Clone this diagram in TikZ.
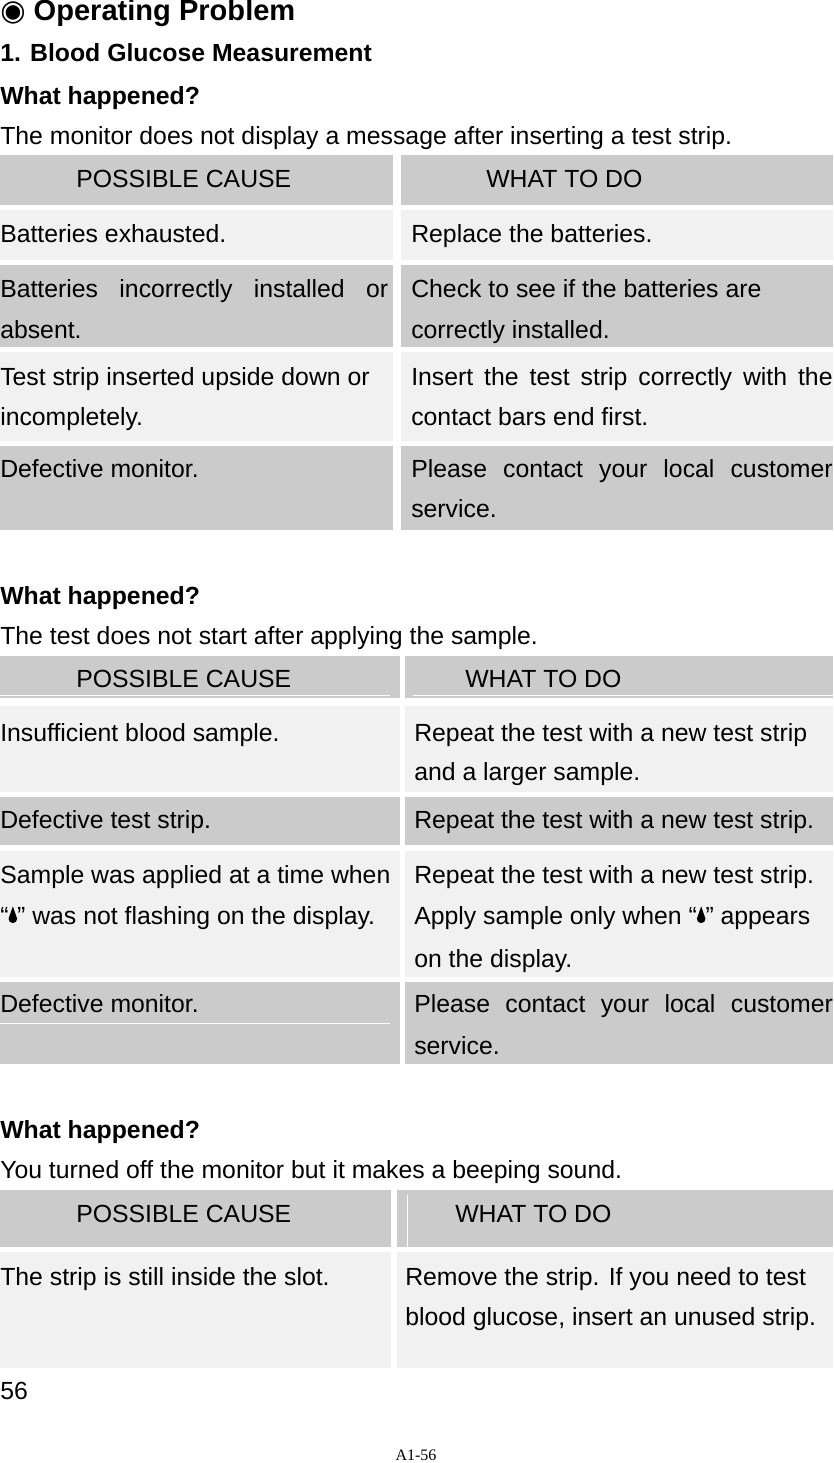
\documentclass[tikz,border=0pt]{standalone}
\usepackage{fontspec}
\setmainfont{Liberation Sans}
\newfontfamily\dejavu{DejaVu Sans}
\newfontfamily\serifA{Liberation Serif}
\definecolor{cg}{HTML}{CBCBCB}
\definecolor{cl}{HTML}{F1F1F1}
\newcommand\mydrop{\tikz[baseline=0pt]\fill (0,1.35ex) -- (0.33ex,0.4ex) arc(0:-180:0.33ex) -- cycle;}
\begin{document}
\begin{tikzpicture}[x=0.75pt,y=-0.75pt,
  txt/.style={anchor=base west,inner sep=0pt,font=\fontsize{18.6}{21}\selectfont},
  bold/.style={txt,font=\fontsize{18.6}{21}\selectfont\bfseries},
  g/.style={fill=cg},l/.style={fill=cl}]
\useasboundingbox[fill=white] (0,0) rectangle (833,1463);
% headings
\node[bold,font=\fontsize{21.8}{24}\selectfont\bfseries] (title) at (0,21) {{\dejavu ◉} Operating Problem};
\node[bold] (h1) at (0,62) {1. Blood Glucose Measurement};
\node[bold] (w1) at (0,104) {What happened?};
\node[txt] (d1) at (0,144) {The monitor does not display a message after inserting a test strip.};
% table 1
\fill[g] (0,155) rectangle (393,205); \fill[g] (401,155) rectangle (833,205);
\fill[l] (0,210) rectangle (393,260); \fill[l] (401,210) rectangle (833,260);
\fill[g] (0,265) rectangle (393,347); \fill[g] (401,265) rectangle (833,347);
\fill[l] (0,352) rectangle (393,441); \fill[l] (401,352) rectangle (833,441);
\fill[g] (0,446) rectangle (393,530); \fill[g] (401,446) rectangle (833,530);
\node[txt] (a1) at (76,187) {POSSIBLE CAUSE};
\node[txt] (b1) at (486,187) {WHAT TO DO};
\node[txt] (a2) at (0,242) {Batteries exhausted.};
\node[txt] (b2) at (411,242) {Replace the batteries.};
\node[txt] (a3) at (0,297) {\makebox[291pt][s]{Batteries incorrectly installed or}};
\node[txt] (a3b) at (0,338) {absent.};
\node[txt] (b3) at (411,297) {Check to see if the batteries are};
\node[txt] (b3b) at (411,338) {correctly installed.};
\node[txt] (a4) at (0,385) {Test strip inserted upside down or};
\node[txt] (a4b) at (0,425) {incompletely.};
\node[txt] (b4) at (411,385) {\makebox[316pt][s]{Insert the test strip correctly with the}};
\node[txt] (b4b) at (411,425) {contact bars end first.};
\node[txt] (a5) at (0,477) {Defective monitor.};
\node[txt] (b5) at (411,477) {\makebox[316pt][s]{Please contact your local customer}};
\node[txt] (b5b) at (411,517) {service.};
% second
\node[bold] (w2) at (0,604) {What happened?};
\node[txt] (d2) at (0,644) {The test does not start after applying the sample.};
\fill[g] (0,656) rectangle (400,698); \fill[g] (405,656) rectangle (833,698);
\draw[white] (0,695) -- (390,695) (413,695) -- (833,695);
\fill[l] (0,706) rectangle (400,792); \fill[l] (405,706) rectangle (833,792);
\fill[g] (0,797) rectangle (400,845); \fill[g] (405,797) rectangle (833,845);
\fill[l] (0,851) rectangle (400,977); \fill[l] (405,851) rectangle (833,977);
\fill[g] (0,982) rectangle (400,1064); \fill[g] (405,982) rectangle (833,1064);
\draw[white] (0,1023) -- (390,1023);
\node[txt] (c1) at (76,687) {POSSIBLE CAUSE};
\node[txt] (e1) at (465,687) {WHAT TO DO};
\node[txt] (c2) at (0,741) {Insufficient blood sample.};
\node[txt] (e2) at (414,741) {Repeat the test with a new test strip};
\node[txt] (e2b) at (414,780) {and a larger sample.};
\node[txt] (c3) at (0,828) {Defective test strip.};
\node[txt] (e3) at (414,828) {Repeat the test with a new test strip.};
\node[txt] (c4) at (0,883) {Sample was applied at a time when};
\node[txt] (c4b) at (0,924) {“\mydrop” was not flashing on the display.};
\node[txt] (e4) at (414,883) {Repeat the test with a new test strip.};
\node[txt] (e4b) at (414,924) {Apply sample only when “\mydrop” appears};
\node[txt] (e4c) at (414,967) {on the display.};
\node[txt] (c5) at (0,1012) {Defective monitor.};
\node[txt] (e5) at (414,1012) {\makebox[314pt][s]{Please contact your local customer}};
\node[txt] (e5b) at (414,1054) {service.};
% third
\node[bold] (w3) at (0,1138) {What happened?};
\node[txt] (d3) at (0,1178) {You turned off the monitor but it makes a beeping sound.};
\fill[g] (0,1190) rectangle (391,1247); \fill[g] (397,1190) rectangle (833,1247);
\fill[l] (0,1252) rectangle (391,1368); \fill[l] (397,1252) rectangle (833,1368);
\draw[white] (407,1195) -- (407,1247);
\node[txt] (f1) at (76,1222) {POSSIBLE CAUSE};
\node[txt] (k1) at (455,1222) {WHAT TO DO};
\node[txt] (f2) at (0,1285) {The strip is still inside the slot.};
\node[txt] (k2) at (405,1285) {Remove the strip. If you need to test};
\node[txt] (k2b) at (405,1325) {blood glucose, insert an unused strip.};
\node[txt] (pg) at (0,1399) {56};
\node[anchor=base,inner sep=0pt,font=\serifA\fontsize{12}{14}\selectfont] (ft) at (416,1460) {A1-56};
\end{tikzpicture}
\end{document}
